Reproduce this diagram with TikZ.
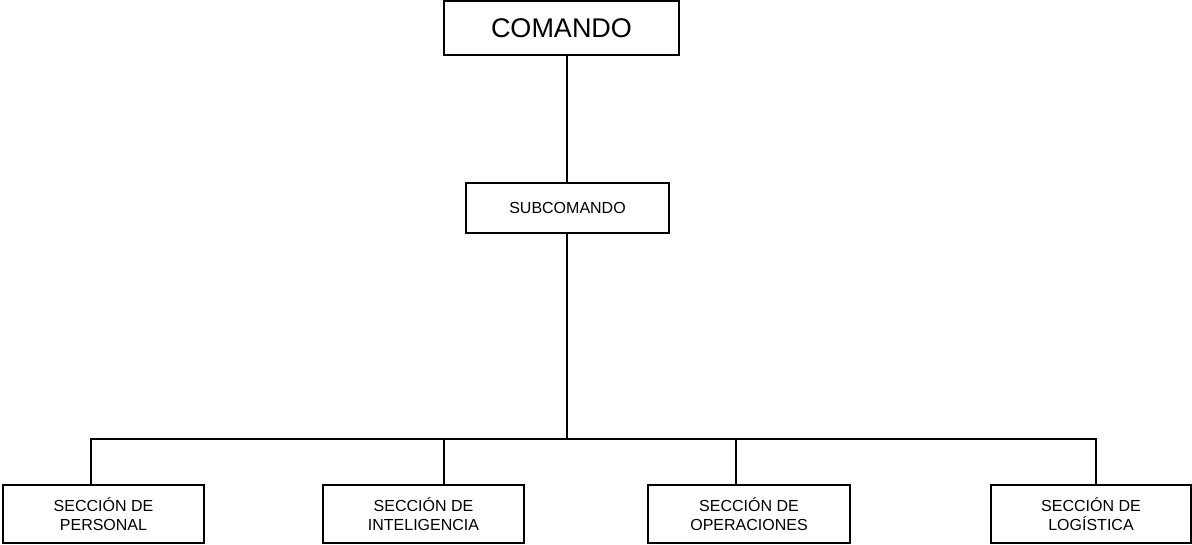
\documentclass[tikz,border=0pt]{standalone}
\usepackage{fontspec}
\setmainfont{Liberation Sans}
\usetikzlibrary{positioning}

\tikzset{
    unit/.style={draw, line width=1.5pt, inner sep=0pt, align=center},
    small/.style={font=\fontsize{16}{18.4}\selectfont},
}

\begin{document}
\begin{tikzpicture}[x=1pt, y=-1pt, line width=1.5pt]

        \useasboundingbox (0, 0) rectangle (1192, 545);

        \node[unit, minimum width=235pt, minimum height=54pt, font=\fontsize{27}{30}\selectfont] (cmd) at (561.5, 28){COMANDO};
        \node[unit, small, minimum width=203pt, minimum height=50pt] (sub) at (567.5, 208){SUBCOMANDO};

        \node[unit, small, minimum width=201pt, minimum height=58pt] (sp) at (103.5, 514){SECCIÓN DE\\PERSONAL};
        \node[unit, small, minimum width=201pt, minimum height=58pt] (si) at (423.5, 514){SECCIÓN DE\\INTELIGENCIA};
        \node[unit, small, minimum width=202pt, minimum height=58pt] (so) at (749, 514){SECCIÓN DE\\OPERACIONES};
        \node[unit, small, minimum width=200pt, minimum height=58pt] (sl) at (1091, 514){SECCIÓN DE\\LOGÍSTICA};

        % bar
        \coordinate (bus) at (567, 439);
        \coordinate (dp) at (91, 439);
        \coordinate (di) at (444, 439);
        \coordinate (do) at (736, 439);
        \coordinate (dl) at (1096, 439);

        \draw (sub.north -| bus) -- (cmd.south -| bus);
        \draw (sub.south -| bus) -- (bus);
        \draw (dp |- sp.north) -- (dp) -- (dl) -- (dl |- sl.north);

        \draw (di) -- (di |- si.north);
        \draw (do) -- (do |- so.north);

\end{tikzpicture}
\end{document}
